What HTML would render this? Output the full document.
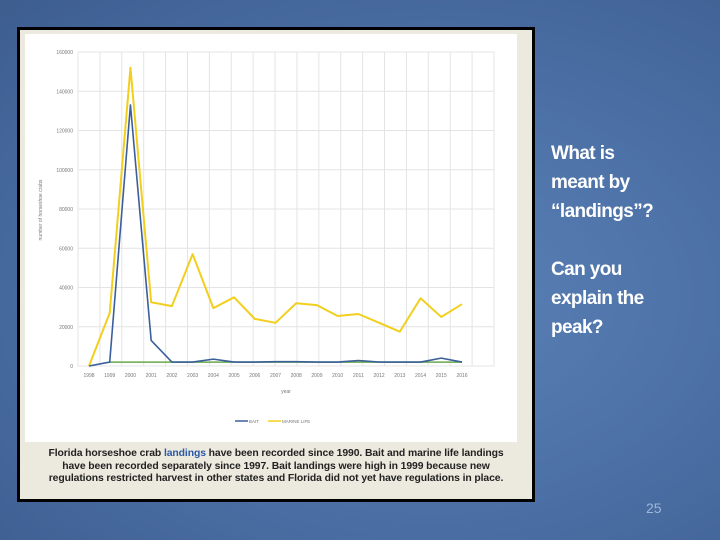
<!DOCTYPE html>
<html><head><meta charset="utf-8"><style>
html,body{margin:0;padding:0}
body{width:720px;height:540px;overflow:hidden;position:relative;font-family:"Liberation Sans",sans-serif;
background:radial-gradient(ellipse at 60% 55%,#5a80b6 0%,#4d72a8 45%,#3d5d8f 100%);}
#frame{position:absolute;left:17px;top:27px;width:512px;height:469px;border:3px solid #000;background:#ece9de}
#chartbg{position:absolute;left:5px;top:4px;width:492px;height:408px;background:#fff}
#caption{position:absolute;left:0;top:418px;width:512px;text-align:center;font-size:10.4px;line-height:12.5px;color:#222;font-weight:bold;letter-spacing:-0.1px}
#side{position:absolute;left:551px;top:139px;color:#fff;font-size:19px;line-height:29px;font-weight:bold;letter-spacing:-0.6px;font-family:"Liberation Sans Narrow","Liberation Sans",sans-serif}
#pnum{position:absolute;left:646px;top:500px;color:#9fb6d8;font-size:14px}
</style></head><body>
<div id="frame">
 <div id="chartbg"></div>
 <div id="caption">Florida horseshoe crab <span style="color:#2a58a8">landings</span> have been recorded since 1990. Bait and marine life landings<br>have been recorded separately since 1997. Bait landings were high in 1999 because new<br>regulations restricted harvest in other states and Florida did not yet have regulations in place.</div>
</div>
<svg id="chart" width="720" height="540" style="position:absolute;left:0;top:0"></svg>
<div id="side">What is<br>meant by<br>“landings”?<br><br>Can you<br>explain the<br>peak?</div>
<div id="pnum">25</div>
<script>
const years=[1998,1999,2000,2001,2002,2003,2004,2005,2006,2007,2008,2009,2010,2011,2012,2013,2014,2015,2016];
const marine=[0,27000,152000,32500,30500,57000,29500,35000,24000,22000,32000,31000,25500,26500,22000,17500,34500,25000,31500];
const bait=[0,2000,133000,13000,2000,2000,3500,2000,2000,2200,2200,2000,2000,2800,2000,2000,2000,4000,2000];
const other=[null,2000,2000,2000,2000,2000,2000,2000,2000,2000,2000,2000,2000,2000,2000,2000,2000,2000,2000];
const yTicks=[0,20000,40000,60000,80000,100000,120000,140000,160000];
const NS="http://www.w3.org/2000/svg";
const svg=document.getElementById('chart');
const x0=89,x1=462,y0=366,y1=52,left=78,right=494;
const xs=i=>x0+(x1-x0)*i/(years.length-1);
const ys=v=>y0-(y0-y1)*v/160000;
function mk(t,a){const e=document.createElementNS(NS,t);for(const k in a)e.setAttribute(k,a[k]);svg.appendChild(e);return e;}
yTicks.forEach(v=>{
 const l=mk('line',{x1:left,x2:right,y1:ys(v),y2:ys(v),stroke:'#e4e4e4','stroke-width':1});
 
 
 const t=mk('text',{x:left-5,y:ys(v)+2,'text-anchor':'end','font-size':5,fill:'#777'});t.textContent=v;
 
 
});
for(let i=0;i<=years.length;i++){
 const gx=left+(right-left)*i/years.length;
 const l=mk('line',{x1:gx,x2:gx,y1:y1,y2:y0,stroke:'#e4e4e4','stroke-width':1});
 
 
}
years.forEach((y,i)=>{
 const t=mk('text',{x:xs(i),y:y0+11,'text-anchor':'middle','font-size':5,fill:'#777'});t.textContent=y;
 
 
});
let t=mk('text',{x:286,y:393,'text-anchor':'middle','font-size':5,fill:'#777'});t.textContent='year';


t=mk('text',{x:0,y:0,'text-anchor':'middle','font-size':5,fill:'#777',transform:'translate(42,210) rotate(-90)'});t.textContent='number of horseshoe crabs';


function line(data,color,w,name){
 const pts=[];data.forEach((v,i)=>{if(v!==null)pts.push(xs(i)+','+ys(v));});
 const p=mk('polyline',{points:pts.join(' '),fill:'none',stroke:color,'stroke-width':w,'stroke-linejoin':'round'});
 
 
}
line(other,'#6aa84f',1.5,'other-series-line');
line(marine,'#f2cf1e',2,'marine-life-line');
line(bait,'#3a5f9a',1.6,'bait-line');
let l=mk('line',{x1:235,x2:248,y1:421,y2:421,stroke:'#3a5f9a','stroke-width':1.5});


t=mk('text',{x:249,y:423,'font-size':4.5,fill:'#777'});t.textContent='BAIT';


l=mk('line',{x1:268,x2:281,y1:421,y2:421,stroke:'#f2cf1e','stroke-width':1.5});


t=mk('text',{x:282,y:423,'font-size':4.5,fill:'#777'});t.textContent='MARINE LIFE';


</script>
</body></html>
